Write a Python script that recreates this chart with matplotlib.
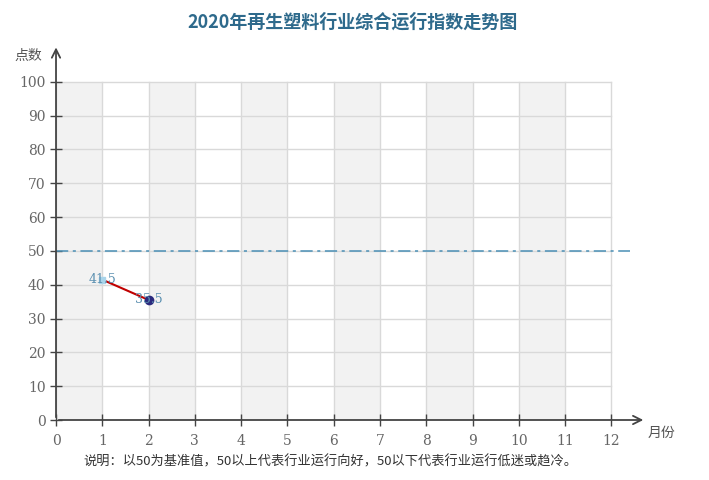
import numpy as np
import matplotlib

matplotlib.use("agg")
import matplotlib.pyplot as plt

plt.rcParams['font.family'] = ['Noto Sans CJK SC', 'DejaVu Sans']

# data
months = [1, 2]
index_vals = [41.5, 35.5]
point_labels = ["41.5", "35.5"]
x_ticks = list(range(0, 13))
y_ticks = list(range(0, 101, 10))
baseline = 50

title = "2020年再生塑料行业综合运行指数走势图"
note = "说明：以50为基准值，50以上代表行业运行向好，50以下代表行业运行低迷或趋冷。"

fig = plt.figure(figsize=(7.09, 4.8), dpi=100)
ax = fig.add_axes([0.079, 0.125, 0.829, 0.775])
ax.set_xlim(0, 12.7)
ax.set_ylim(0, 110)

# alternating shaded columns
for i in range(0, 12, 2):
    ax.fill_between([i, i + 1], 0, 100, color="#f2f2f2", lw=0, zorder=0)
# grid
for x in x_ticks:
    ax.plot([x, x], [0, 100], color="#d9d9d9", lw=1, zorder=1)
for y in y_ticks:
    ax.plot([0, 12], [y, y], color="#d9d9d9", lw=1, zorder=1)

# baseline
ax.plot([0, 12.4], [baseline, baseline], color="#4a8fb5", lw=1.1,
        dashes=(8, 3, 2, 3), zorder=2)

# series
ax.plot(months, index_vals, color="#c00000", lw=1.5, zorder=3)
ax.plot(months[0], index_vals[0], marker="s", ms=4, color="#a9d4ea", zorder=4)
ax.plot(months[1], index_vals[1], marker="o", ms=6, color="#2b2a7e", zorder=4)
for m, v, t in zip(months, index_vals, point_labels):
    ax.text(m, v, t, ha="center", va="center", fontsize=9, color="#5a8fb0",
            family="DejaVu Serif", zorder=5)

# axes with arrows
for s in ax.spines.values():
    s.set_visible(False)
ax.annotate("", xy=(12.75, 0), xytext=(0, 0),
            arrowprops=dict(arrowstyle="->", color="#444444", lw=1.3,
                            mutation_scale=15),
            annotation_clip=False)
ax.annotate("", xy=(0, 111), xytext=(0, 0),
            arrowprops=dict(arrowstyle="->", color="#444444", lw=1.3,
                            mutation_scale=15),
            annotation_clip=False)

ax.set_xticks(x_ticks)
ax.set_yticks(y_ticks)
ax.set_xticklabels([str(x) for x in x_ticks], family="DejaVu Serif")
ax.set_yticklabels([str(y) for y in y_ticks], family="DejaVu Serif")
ax.tick_params(direction="inout", length=8, width=1, color="#444444",
               labelcolor="#666666", labelsize=10)
ax.tick_params(axis="x", pad=6)

fig.text(0.497, 0.953, title, ha="center", va="center", fontsize=13,
         fontweight="bold", color="#2e6a8c")
fig.text(0.04, 0.883, "点数", ha="center", va="center", fontsize=10,
         color="#555555")
fig.text(0.933, 0.098, "月份", ha="center", va="center", fontsize=10,
         color="#555555")
fig.text(0.117, 0.037, note, ha="left", va="center", fontsize=9.5,
         color="#333333")

plt.savefig("out.png")
